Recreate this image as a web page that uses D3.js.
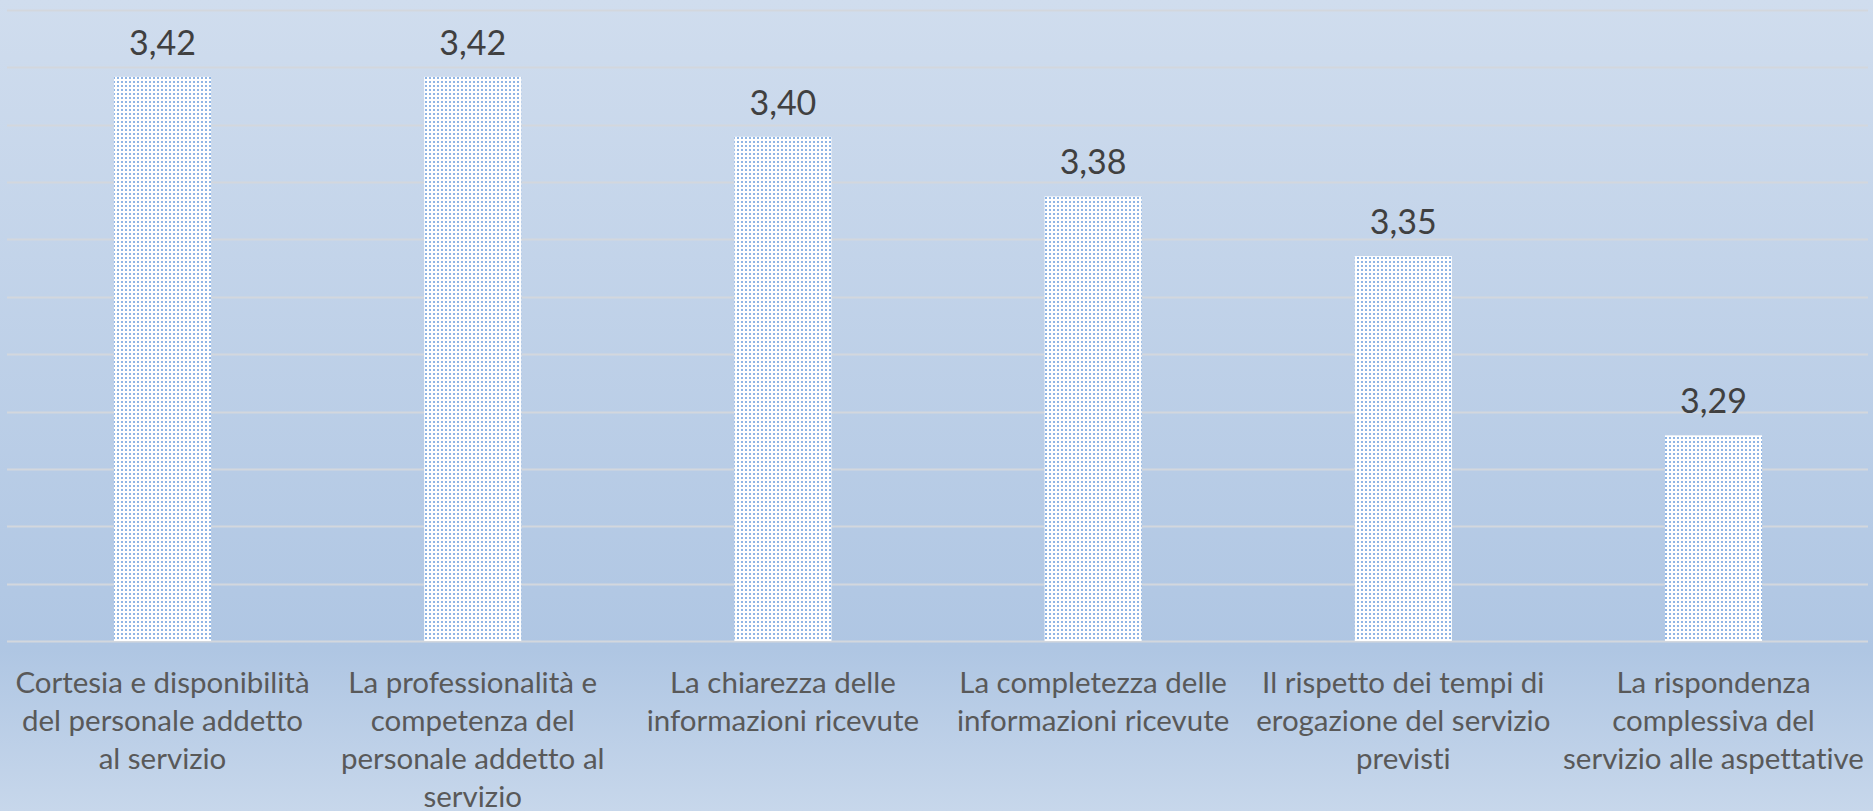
<!DOCTYPE html>
<html>
<head>
<meta charset="utf-8">
<script src="https://cdn.jsdelivr.net/npm/d3@7"></script>
<style>
  html, body { margin: 0; padding: 0; overflow: hidden; }
  svg { display: block; }
  text { font-variant-ligatures: none; font-feature-settings: "liga" 0, "clig" 0; }
</style>
</head>
<body>
<svg id="chart"></svg>
<script>
// categories (line breaks as in the original labels)
const categories = [
    ['Cortesia e disponibilità', 'del personale addetto', 'al servizio'],
    ['La professionalità e', 'competenza del', 'personale addetto al', 'servizio'],
    ['La chiarezza delle', 'informazioni ricevute'],
    ['La completezza delle', 'informazioni ricevute'],
    ['Il rispetto dei tempi di', 'erogazione del servizio', 'previsti'],
    ['La rispondenza', 'complessiva del', 'servizio alle aspettative']
];
const values = [3.4167, 3.4167, 3.3958, 3.375, 3.3542, 3.2917];
const valueLabels = ['3,42', '3,42', '3,40', '3,38', '3,35', '3,29'];
const yTicks = [3.22, 3.24, 3.26, 3.28, 3.30, 3.32, 3.34, 3.36, 3.38, 3.40, 3.42, 3.44];

const width = 1873, height = 811;
const svg = d3.select('#chart').attr('width', width).attr('height', height);

const defs = svg.append('defs');
const grad = defs.append('linearGradient')
    .attr('id', 'bg').attr('x1', 0).attr('y1', 0).attr('x2', 0).attr('y2', 1);
grad.append('stop').attr('offset', '0%').attr('stop-color', '#d0ddee');
grad.append('stop').attr('offset', '80%').attr('stop-color', '#afc6e3');
grad.append('stop').attr('offset', '100%').attr('stop-color', '#c7d7eb');

//dotted fill of the bars
const pat = defs.append('pattern')
    .attr('id', 'dots').attr('patternUnits', 'userSpaceOnUse')
    .attr('width', 4).attr('height', 4);
pat.append('rect').attr('width', 4).attr('height', 4).attr('fill', '#ffffff');
pat.append('rect').attr('x', 1).attr('y', 1).attr('width', 2).attr('height', 2).attr('fill', '#8fb5e5');

svg.append('rect').attr('width', width).attr('height', height).attr('fill', 'url(#bg)');

const x = d3.scaleBand()
    .domain(d3.range(categories.length))
    .range([7.4, 1868.6])
    .paddingInner(0.687)
    .paddingOuter(0.3435);

const y = d3.scaleLinear().domain([3.22, 3.44]).range([641, 10]);

//gridlines
svg.append('g').selectAll('line').data(yTicks)
    .enter().append('line')
    .attr('x1', 7).attr('x2', 1868)
    .attr('y1', d => Math.round(y(d)) + 0.5)
    .attr('y2', d => Math.round(y(d)) + 0.5)
    .attr('stroke', '#d3d7dd')
    .attr('stroke-width', 2);

//bars
svg.append('g').selectAll('rect').data(values)
    .enter().append('rect')
    .attr('x', (d, i) => x(i))
    .attr('width', x.bandwidth())
    .attr('y', d => y(d))
    .attr('height', d => y(3.22) - y(d))
    .attr('fill', 'url(#dots)');

//value labels
svg.append('g').selectAll('text').data(values)
    .enter().append('text')
    .attr('x', (d, i) => x(i) + x.bandwidth() / 2)
    .attr('y', d => y(d) - 22)
    .attr('text-anchor', 'middle')
    .attr('font-family', 'Lato, "Open Sans", sans-serif')
    .attr('font-size', 34)
    .attr('fill', '#404040')
    .text((d, i) => valueLabels[i]);

//category labels
const cat = svg.append('g').selectAll('text').data(categories)
    .enter().append('text')
    .attr('text-anchor', 'middle')
    .attr('font-family', 'Lato, "Open Sans", sans-serif')
    .attr('font-size', 29.5)
    .attr('fill', '#595959');

cat.selectAll('tspan').data((d, i) => d.map(line => ({ line, i })))
    .enter().append('tspan')
    .attr('x', d => x(d.i) + x.bandwidth() / 2)
    .attr('y', (d, j) => 693 + j * 38)
    .text(d => d.line);
</script>
</body>
</html>
